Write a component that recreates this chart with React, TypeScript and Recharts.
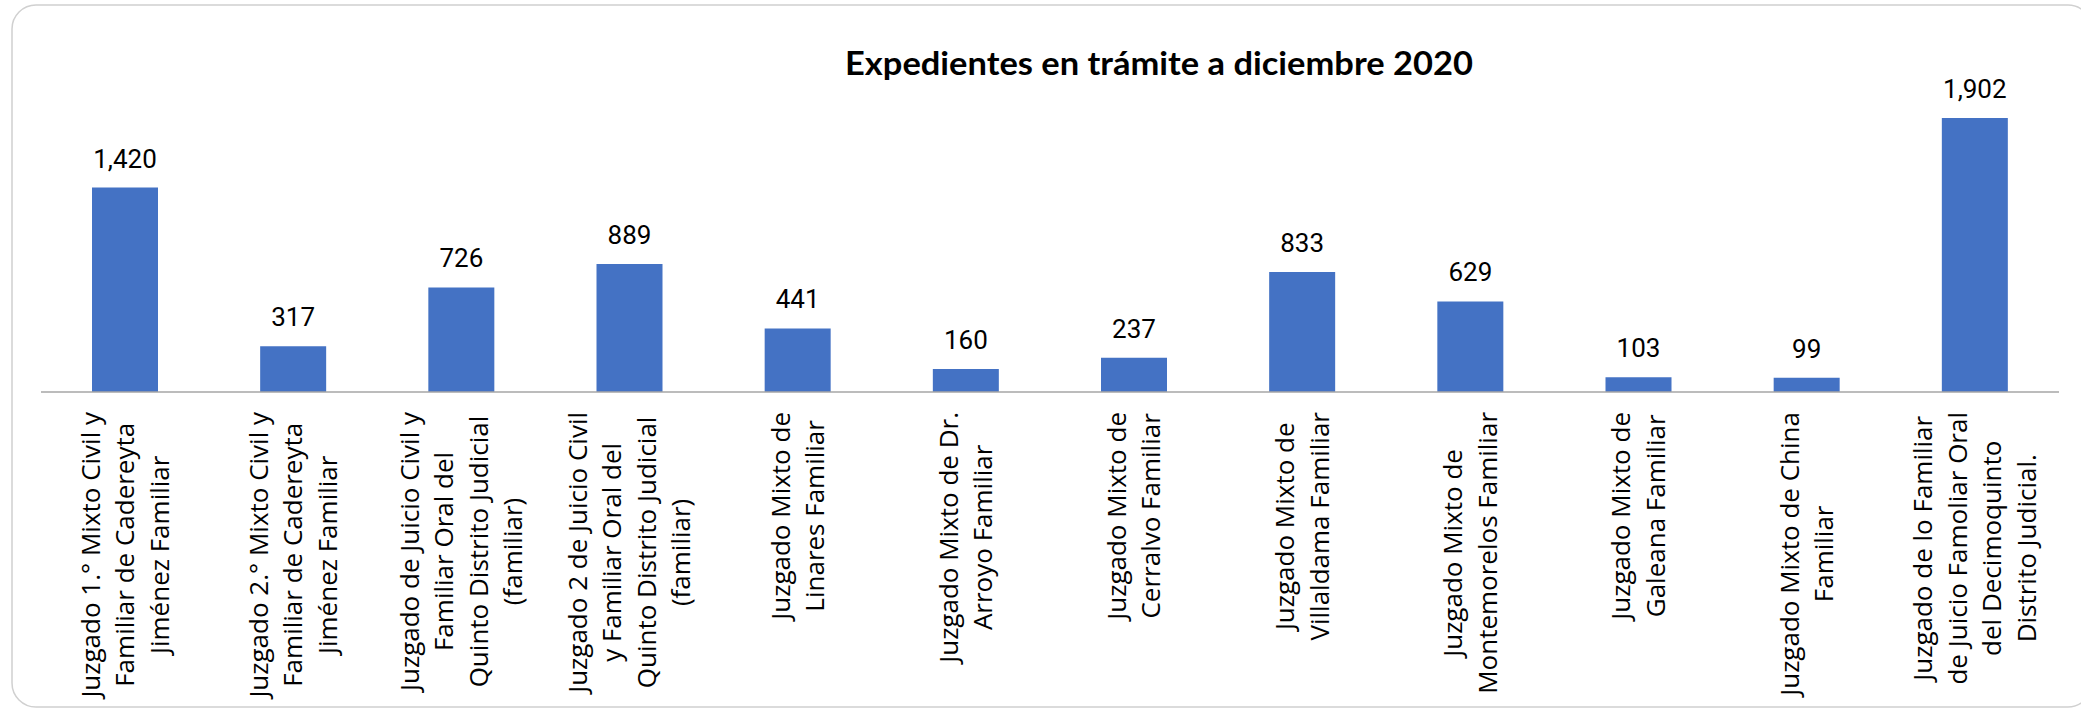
import React from 'react';
import { BarChart, Bar, XAxis, YAxis, LabelList } from 'recharts';

const title = 'Expedientes en trámite a diciembre 2020';

const categories = [
  'Juzgado 1.° Mixto Civil y Familiar de Cadereyta Jiménez Familiar',
  'Juzgado 2.° Mixto Civil y Familiar de Cadereyta Jiménez Familiar',
  'Juzgado de Juicio Civil y Familiar Oral del Quinto Distrito Judicial (familiar)',
  'Juzgado 2 de Juicio Civil y Familiar Oral del Quinto Distrito Judicial (familiar)',
  'Juzgado Mixto de Linares Familiar',
  'Juzgado Mixto de Dr. Arroyo Familiar',
  'Juzgado Mixto de Cerralvo Familiar',
  'Juzgado Mixto de Villaldama Familiar',
  'Juzgado Mixto de Montemorelos Familiar',
  'Juzgado Mixto de Galeana Familiar',
  'Juzgado Mixto de China Familiar',
  'Juzgado de lo Familiar de Juicio Famoliar Oral del Decimoquinto Distrito Judicial.',
];

const values = [1420, 317, 726, 889, 441, 160, 237, 833, 629, 103, 99, 1902];

const tickLines: string[][] = [
  ['Juzgado 1.° Mixto Civil y', 'Familiar de Cadereyta', 'Jiménez Familiar'],
  ['Juzgado 2.° Mixto Civil y', 'Familiar de Cadereyta', 'Jiménez Familiar'],
  ['Juzgado de Juicio Civil y', 'Familiar Oral del', 'Quinto Distrito Judicial', '(familiar)'],
  ['Juzgado 2 de Juicio Civil', 'y Familiar Oral del', 'Quinto Distrito Judicial', '(familiar)'],
  ['Juzgado Mixto de', 'Linares Familiar'],
  ['Juzgado Mixto de Dr.', 'Arroyo Familiar'],
  ['Juzgado Mixto de', 'Cerralvo Familiar'],
  ['Juzgado Mixto de', 'Villaldama Familiar'],
  ['Juzgado Mixto de', 'Montemorelos Familiar'],
  ['Juzgado Mixto de', 'Galeana Familiar'],
  ['Juzgado Mixto de China', 'Familiar'],
  ['Juzgado de lo Familiar', 'de Juicio Famoliar Oral', 'del Decimoquinto', 'Distrito Judicial.'],
];

const yDomain = [0, 2000];

const data = categories.map((name, i) => ({ name, value: values[i] }));

const TICK_FONT_SIZE = 26;
const TICK_FONT = `${TICK_FONT_SIZE}px "Open Sans"`;
const LINE_HEIGHT = 34.5;

let ctx: CanvasRenderingContext2D | null = null;
function measure(text: string): number {
  if (!ctx) {
    const c = document.createElement('canvas');
    ctx = c.getContext('2d');
  }
  if (!ctx) return text.length * TICK_FONT_SIZE * 0.5;
  ctx.font = TICK_FONT;
  return ctx.measureText(text).width;
}

const CustomTick = (props: any) => {
  const { x, y, payload } = props;
  const idx = categories.indexOf(payload.value);
  const lines = tickLines[idx] || [String(payload.value)];
  const maxW = Math.max(...lines.map(measure));
  const top = y + 20;
  const cy = top + maxW / 2;
  const n = lines.length;
  return (
    <g>
      {lines.map((ln, i) => {
        const off = (i - (n - 1) / 2) * LINE_HEIGHT + 9;
        return (
          <text
            key={i}
            x={0}
            y={0}
            transform={`translate(${x + off}, ${cy}) rotate(-90)`}
            textAnchor="middle"
            fontFamily='"Open Sans", sans-serif'
            fontSize={TICK_FONT_SIZE}
            fill="#000"
          >
            {ln}
          </text>
        );
      })}
    </g>
  );
};

export default function App() {
  return (
    <div style={{ position: 'absolute', left: 0, top: 0, width: 2081, height: 710, background: '#fff' }}>
      <svg width={2081} height={710} style={{ position: 'absolute', left: 0, top: 0 }}>
        <rect x={12} y={5} width={2080} height={702} rx={24} ry={24} fill="#fff" stroke="#d0d0d0" strokeWidth={1.5} />
      </svg>
      <div style={{ position: 'absolute', left: 0, top: 0 }}>
        <BarChart
          width={2081}
          height={710}
          data={data}
          margin={{ top: 104, right: 22, left: 41, bottom: 0 }}
          barSize={66}
        >
          <XAxis
            dataKey="name"
            height={318}
            interval={0}
            tickLine={false}
            tickSize={0}
            tickMargin={0}
            axisLine={{ stroke: '#a6a6a6', strokeWidth: 1.5 }}
            tick={<CustomTick />}
          />
          <YAxis hide domain={yDomain} />
          <Bar dataKey="value" fill="#4472C4" isAnimationActive={false}>
            <LabelList
              dataKey="value"
              position="top"
              offset={20}
              formatter={(v: any) => Number(v).toLocaleString('en-US')}
              fill="#000"
              fontFamily="Roboto, sans-serif"
              fontSize={26}
            />
          </Bar>
        </BarChart>
      </div>
      <svg width={2081} height={110} style={{ position: 'absolute', left: 0, top: 0 }}>
        <text
          x={1159}
          y={75}
          textAnchor="middle"
          fontFamily="Lato, sans-serif"
          fontWeight="bold"
          fontSize={33}
          textLength={628}
          lengthAdjust="spacingAndGlyphs"
          fill="#000"
        >
          {title}
        </text>
      </svg>
    </div>
  );
}
